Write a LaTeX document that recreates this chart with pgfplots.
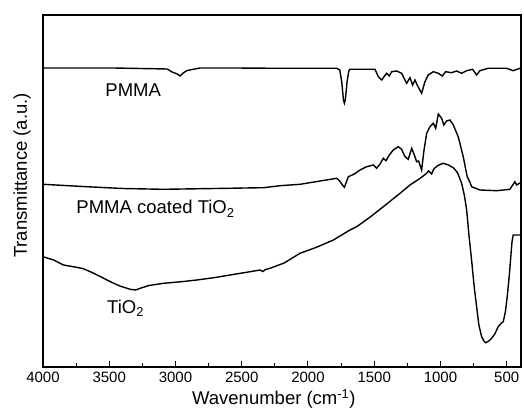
\documentclass[border=0pt]{standalone}
\usepackage{fontspec}
\setmainfont{Liberation Sans}
\usepackage{pgfplots}
\pgfplotsset{compat=1.18}

\pgfplotstableread{
wn val
4000 299
3470 299
3063 298
3025 295
2987 293
2965 291
2942 294
2912 296.5
2814 299
2565 299
2210 298.7
1783 298.7
1760 297
1745 285
1732 267
1725 263.7
1718 267
1705 285
1692 296
1683 297.7
1494 297.7
1469 290.3
1443 287
1426 290.3
1406 293.7
1386 291
1368 295.3
1330 296
1293 293.7
1268 287
1255 283.7
1230 289.3
1210 282
1192 287
1172 281
1142 273.7
1117 285.3
1092 292
1054 295.3
1016 293.7
986 291
961 295.3
916 294.3
878 296
840 293.7
802 296.3
757 297.7
727 292
702 296.3
640 298.7
501 298.7
451 296.3
400 298.7
}\pmma

\pgfplotstableread{
wn val
4000 182.7
3700 180.5
3400 178.5
3090 177.7
2700 178.5
2336 179.3
2210 181.3
2060 182.7
1783 188.7
1760 186
1740 182
1725 179.7
1710 185
1695 190.3
1650 193
1607 197
1557 200.3
1507 202
1482 198.7
1456 203
1431 208.7
1411 206.3
1386 212
1356 217
1318 220.3
1293 217.7
1268 210.3
1243 207.7
1217 218.7
1197 212
1180 205.3
1165 206
1142 197
1124 217
1104 233.7
1079 240.3
1054 243.7
1036 238.7
1016 253
991 248.7
974 242
954 246
928 247
903 242
866 230.3
828 210.3
798 190.3
778 185
765 180.3
702 177
576 176.3
476 177.7
438 185.3
425 182
400 184
}\coated

\pgfplotstableread{
wn val
4000 110.3
3920 107
3845 102
3760 100
3700 98.5
3643 95.3
3560 90
3492 85.3
3420 81
3342 77.7
3300 77
3266 78.7
3200 81.5
3090 83.7
2940 85.5
2839 87
2700 89.5
2588 92
2450 95
2361 97
2340 95.5
2320 97.5
2286 98.7
2180 104
2060 113.7
1930 120
1808 127
1683 137
1632 140.3
1530 150
1431 160.3
1305 173.7
1230 182
1150 189
1104 193.7
1090 196
1067 193
1050 198
1020 201.5
979 203.7
940 202
900 199
870 194
840 183.7
820 172
802 157
785 132
765 107
745 80
727 60.3
710 42
689 30.3
670 25.5
657 24.3
635 26
614 28.7
590 33
564 40.3
540 44
526 45.3
510 55
496 70.3
480 92
471 107
460 125
451 132
400 132
}\tio

\begin{document}
\begin{tikzpicture}
\path[use as bounding box] (-43pt,-47pt) rectangle (481pt,367pt);
\begin{axis}[
    scale only axis,
    width=478pt,
    height=352pt,
    x dir=reverse,
    xmin=392, xmax=4000,
    ymin=0, ymax=352,
    xtick={500,1000,...,4000},
    minor xtick={750,1250,...,3750},
    xtick pos=left,
    tick align=inside,
    major tick length=6pt,
    minor tick length=4pt,
    ytick=\empty,
    axis line style={line width=1.1pt},
    every tick/.style={black, line width=1pt},
    /pgf/number format/assume math mode=true,
    /pgf/number format/set thousands separator={},
    xticklabel style={font=\fontsize{15}{18}\selectfont, yshift=-1pt},
    xlabel={Wavenumber (cm\textsuperscript{-1})},
    ylabel={Transmittance (a.u.)},
    every axis x label/.style={at={(rel axis cs:0.483,0)}, anchor=center, yshift=-32pt, font=\fontsize{18.5}{22}\selectfont},
    every axis y label/.style={at={(rel axis cs:0,0.544)}, anchor=center, xshift=-21pt, rotate=90, font=\fontsize{18.5}{22}\selectfont},
    clip=true,
]
\addplot[black, line width=1.4pt] table[x=wn, y=val] {\pmma};
\addplot[black, line width=1.4pt] table[x=wn, y=val] {\coated};
\addplot[black, line width=1.4pt] table[x=wn, y=val] {\tio};

\node[anchor=base west, inner sep=0pt, font=\fontsize{18.5}{22}\selectfont] at (axis cs:3530,270.3) {PMMA};
\node[anchor=base west, inner sep=0pt, font=\fontsize{18.5}{22}\selectfont] at (axis cs:3749,153) {PMMA coated TiO\textsubscript{2}};
\node[anchor=base west, inner sep=0pt, font=\fontsize{18.5}{22}\selectfont] at (axis cs:3517,53.7) {TiO\textsubscript{2}};
\end{axis}
\end{tikzpicture}
\end{document}
